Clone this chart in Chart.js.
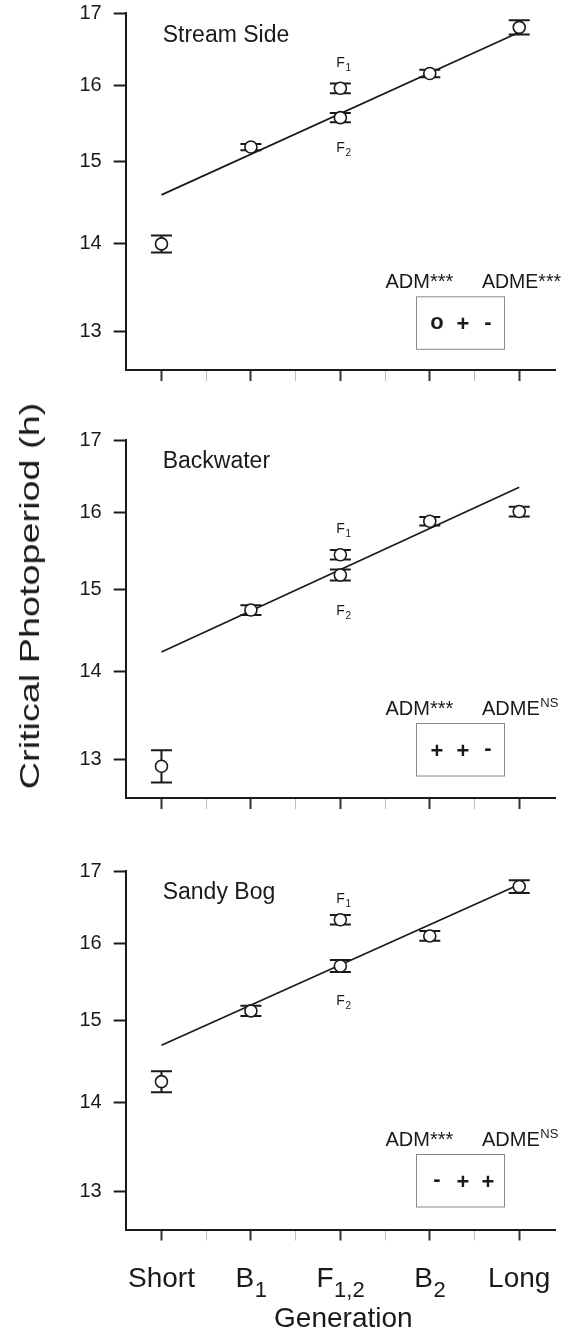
<!DOCTYPE html>
<html><head><meta charset="utf-8">
<script src="https://cdn.jsdelivr.net/npm/chart.js@4.4.1/dist/chart.umd.min.js"></script>
<style>
html,body{margin:0;padding:0;background:#fff;}
#wrap{position:relative;width:570px;height:1332px;overflow:hidden;background:#fff;}
canvas{position:absolute;left:0;}
#ytitle{position:absolute;left:29.6px;top:596px;font:28px 'Liberation Sans',Arial,sans-serif;line-height:1;white-space:nowrap;color:#1a1a1a;transform:translate(-50%,-50%) rotate(-90deg) scaleX(1.35);}
</style></head><body>
<div id="wrap">
<canvas id="c1" width="570" height="432" style="top:-12px"></canvas>
<canvas id="c2" width="570" height="435" style="top:415px"></canvas>
<canvas id="c3" width="570" height="486" style="top:846px"></canvas>
<div id="ytitle">Critical Photoperiod (h)</div>
</div>
<script>
// ---------- data ----------
const groups = ['Short','B1','F1','F2','B2','Long'];
const groupX = [0,1,2,2,3,4];
const xTickVals = [0,0.5,1,1.5,2,2.5,3,3.5,4];
const xLabelMain = ['Short','B','F','B','Long'];
const xLabelSub  = ['','1','1,2','2',''];
const yTicks = [13,14,15,16,17];
const fitX = [0,4];

const streamMean = [14.00,15.19,15.96,15.57,16.16,16.80];
const streamSE   = [0.10,0.04,0.065,0.06,0.05,0.10];
const streamFit  = [14.59,16.73];

const backMean = [12.93,14.74,15.44,15.18,15.88,16.01];
const backSE   = [0.175,0.06,0.06,0.07,0.055,0.065];
const backFit  = [14.23,16.34];

const sandyMean = [14.25,15.12,16.32,15.70,16.10,16.78];
const sandySE   = [0.125,0.065,0.065,0.08,0.065,0.09];
const sandyFit  = [14.69,16.81];

const panelNames = ['Stream Side','Backwater','Sandy Bog'];
const admeSig = ['***','NS','NS'];
const effects = [['o','+','-'],['+','+','-'],['-','+','+']];

// ---------- style ----------
const INK = '#1a1a1a';
const FONT = "'Liberation Sans', Arial, Helvetica, sans-serif";
Chart.defaults.font.family = FONT;
Chart.defaults.color = INK;

function drawSub(ctx, main, sub, x, y, mainSize, subSize, dy, align) {
  ctx.font = mainSize + 'px ' + FONT;
  const wm = ctx.measureText(main).width;
  ctx.font = subSize + 'px ' + FONT;
  const ws = sub ? ctx.measureText(sub).width : 0;
  let x0 = x;
  if (align === 'center') x0 = x - (wm + ws) / 2;
  ctx.textAlign = 'left';
  ctx.textBaseline = 'alphabetic';
  ctx.font = mainSize + 'px ' + FONT;
  ctx.fillText(main, x0, y);
  if (sub) { ctx.font = subSize + 'px ' + FONT; ctx.fillText(sub, x0 + wm + 0.5, y + dy); }
}

function annotPlugin(p) {
  return {
    id: 'annot' + p.idx,
    beforeDatasetsDraw(chart) {
      const ctx = chart.ctx, xs = chart.scales.x, ys = chart.scales.y;
      ctx.save();
      ctx.strokeStyle = INK; ctx.lineWidth = 2;
      p.mean.forEach((m, i) => {
        const x = xs.getPixelForValue(groupX[i]);
        const yt = ys.getPixelForValue(m + p.se[i]);
        const yb = ys.getPixelForValue(m - p.se[i]);
        ctx.beginPath();
        ctx.moveTo(x, yt); ctx.lineTo(x, yb);
        ctx.moveTo(x - 10.5, yt); ctx.lineTo(x + 10.5, yt);
        ctx.moveTo(x - 10.5, yb); ctx.lineTo(x + 10.5, yb);
        ctx.stroke();
      });
      ctx.restore();
    },
    afterDraw(chart) {
      const ctx = chart.ctx, ca = chart.chartArea, xs = chart.scales.x;
      ctx.save();
      ctx.fillStyle = INK;
      // panel name
      ctx.font = '23px ' + FONT; ctx.textAlign = 'left'; ctx.textBaseline = 'alphabetic';
      ctx.fillText(p.name, ca.left + 37, ca.top + 28.4);
      // F1 / F2 labels
      const fx = xs.getPixelForValue(2) - 4;
      drawSub(ctx, 'F', '1', fx, ca.top + p.f1y, 14, 10, 4, 'left');
      drawSub(ctx, 'F', '2', fx, ca.top + p.f2y, 14, 10, 4, 'left');
      // ADM / ADME
      ctx.font = '20px ' + FONT; ctx.textAlign = 'left';
      ctx.fillText('ADM***', 385.5, ca.top + 275);
      if (p.adme === '***') {
        ctx.font = '19.5px ' + FONT;
        ctx.fillText('ADME***', 482, ca.top + 275);
      } else {
        ctx.fillText('ADME', 482, ca.top + 275);
        const w = ctx.measureText('ADME').width;
        ctx.font = '13px ' + FONT;
        ctx.fillText(p.adme, 482 + w + 0.5, ca.top + 267);
      }
      // box
      ctx.strokeStyle = '#8a8a8a'; ctx.lineWidth = 1;
      const bt = ca.top + 283.5, bh = 52.5;
      ctx.strokeRect(416.5, bt, 88, bh);
      const cy = bt + bh / 2;
      ctx.font = 'bold 22px ' + FONT; ctx.textAlign = 'center';
      const sx = [437, 463, 488];
      p.eff.forEach((s, i) => {
        const m = ctx.measureText(s);
        const base = cy + (m.actualBoundingBoxAscent - m.actualBoundingBoxDescent) / 2;
        ctx.fillText(s, sx[i], base);
      });
      // x labels (bottom panel only)
      if (p.xlabels) {
        xLabelMain.forEach((t, i) => {
          drawSub(ctx, t, xLabelSub[i], xs.getPixelForValue(i), ca.bottom + 57.2, 28, 22, 10, 'center');
        });
        ctx.font = '28px ' + FONT; ctx.textAlign = 'center'; ctx.textBaseline = 'alphabetic';
        ctx.fillText('Generation', (ca.left + ca.right) / 2 + 3, ca.bottom + 97.2);
      }
      ctx.restore();
    }
  };
}

function makePanel(id, p) {
  const pts = groupX.map((x, i) => ({x: x, y: p.mean[i]}));
  const fit = fitX.map((x, i) => ({x: x, y: p.fit[i]}));
  return new Chart(document.getElementById(id), {
    type: 'scatter',
    data: { datasets: [
      { type: 'line', label: 'fit', data: fit, borderColor: INK, borderWidth: 1.7, pointRadius: 0, fill: false, order: 2 },
      { type: 'scatter', label: 'mean', data: pts, pointRadius: 6, pointBackgroundColor: '#fff', pointBorderColor: INK, pointBorderWidth: 1.6, order: 1 }
    ]},
    options: {
      responsive: false, animation: false, devicePixelRatio: 1,
      layout: { padding: { left: 0, right: 15, top: p.padTop, bottom: p.padBottom } },
      plugins: { legend: { display: false }, tooltip: { enabled: false } },
      scales: {
        x: {
          type: 'linear', min: -0.4, max: 4.4,
          afterBuildTicks: s => { s.ticks = xTickVals.map(v => ({value: v})); },
          afterFit: s => { s.height = 20; },
          grid: { drawOnChartArea: false, drawTicks: true, tickLength: 11,
            tickColor: c => (c.tick && Number.isInteger(c.tick.value)) ? '#333' : '#bdbdbd',
            tickWidth: c => (c.tick && Number.isInteger(c.tick.value)) ? 2 : 1 },
          border: { color: INK, width: 2 },
          ticks: { display: false }
        },
        y: {
          type: 'logarithmic', min: 12.59, max: 17,
          afterBuildTicks: s => { s.ticks = yTicks.map(v => ({value: v})); },
          afterFit: s => { s.width = 125.7; },
          grid: { drawOnChartArea: false, drawTicks: true, tickLength: 12, tickColor: INK, tickWidth: 2 },
          border: { color: INK, width: 2 },
          ticks: { callback: v => String(v), font: { size: 20 }, color: INK, padding: 12 }
        }
      }
    },
    plugins: [annotPlugin(p)]
  });
}

makePanel('c1', { idx: 1, name: panelNames[0], mean: streamMean, se: streamSE, fit: streamFit,
  adme: admeSig[0], eff: effects[0], f1y: 53.4, f2y: 138.4, padTop: 25.3, padBottom: 30, xlabels: false });
makePanel('c2', { idx: 2, name: panelNames[1], mean: backMean, se: backSE, fit: backFit,
  adme: admeSig[1], eff: effects[1], f1y: 93, f2y: 175, padTop: 25, padBottom: 32, xlabels: false });
makePanel('c3', { idx: 3, name: panelNames[2], mean: sandyMean, se: sandySE, fit: sandyFit,
  adme: admeSig[2], eff: effects[2], f1y: 32, f2y: 134, padTop: 25, padBottom: 82.5, xlabels: true });
</script>
</body></html>
